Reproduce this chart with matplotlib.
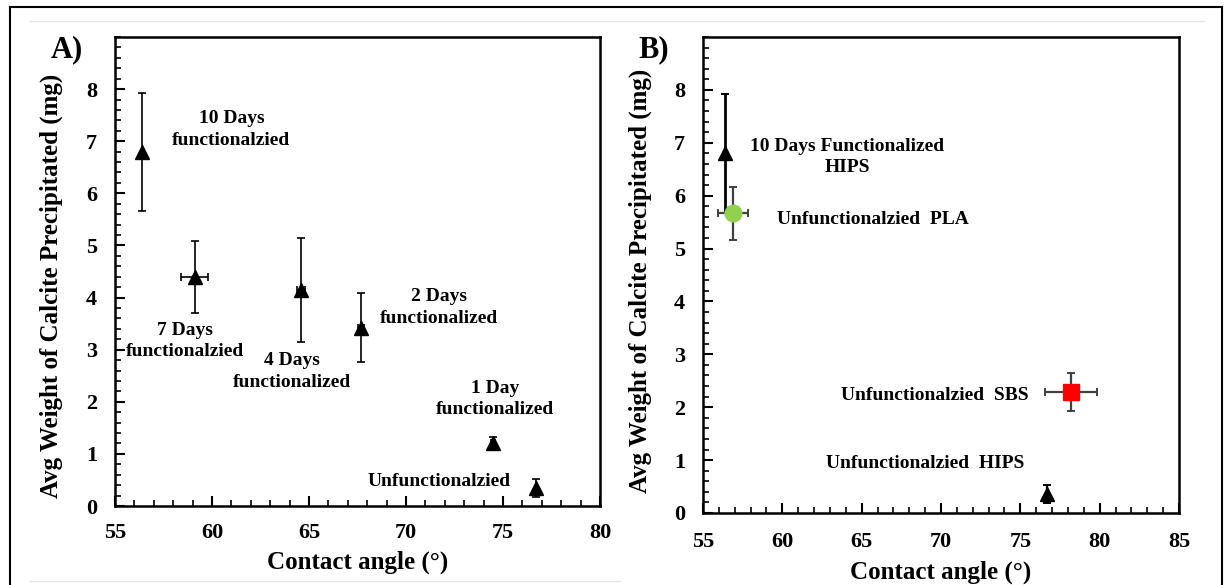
import matplotlib
matplotlib.use('Agg')
import matplotlib.pyplot as plt
from matplotlib.lines import Line2D
from matplotlib.ticker import MultipleLocator

plt.rcParams['font.family'] = ['Liberation Serif', 'DejaVu Serif']
plt.rcParams['font.weight'] = 'bold'

# ---- data, panel A (functionalization time series) ----
a_names = ['10 Days\nfunctionalzied', '7 Days\nfunctionalzied', '4 Days\nfunctionalized',
           '2 Days\nfunctionalized', '1 Day\nfunctionalized', 'Unfunctionalzied']
a_angle = [56.4, 59.1, 64.6, 67.7, 74.5, 76.7]
a_angle_err = [0.0, 0.7, 0.2, 0.15, 0.1, 0.0]
a_weight = [6.8, 4.4, 4.15, 3.42, 1.2, 0.35]
a_weight_err = [1.13, 0.69, 1.0, 0.66, 0.13, 0.17]

# ---- data, panel B (materials) ----
b_names = ['10 Days Functionalized\nHIPS', 'Unfunctionalzied  PLA',
           'Unfunctionalzied  SBS', 'Unfunctionalzied  HIPS']
b_angle = [56.4, 56.9, 78.2, 76.7]
b_angle_err = [0.0, 0.95, 1.65, 0.0]
b_weight = [6.8, 5.67, 2.28, 0.35]
b_weight_err = [1.13, 0.5, 0.36, 0.17]

x_ticks_a = [55, 60, 65, 70, 75, 80]
x_ticks_b = [55, 60, 65, 70, 75, 80, 85]
y_ticks = [0, 1, 2, 3, 4, 5, 6, 7, 8]

# label placement (data coords)
a_text_pos = [(61.0, 7.23), (58.6, 3.17), (64.1, 2.58), (71.7, 3.81), (74.6, 2.05), (71.7, 0.47)]
b_text_pos = [(64.1, 6.73), (65.7, 5.54), (69.6, 2.23), (69.0, 0.94)]

# marker styles for panel B
b_marker = ['^', 'o', 's', '^']
b_face = ['black', '#92D050', '#FF0000', 'black']
b_size = [10, 12, 11, 10]
b_ecolor = ['black', '#404040', '#404040', 'black']
b_elw = [2.0, 1.6, 1.6, 1.6]

W, H = 1226, 585
fig = plt.figure(figsize=(W / 100, H / 100), dpi=100)


def fx(x):
    return x / W


def fy(y):
    return 1 - y / H


axA = fig.add_axes([fx(115), fy(506), fx(600) - fx(115), fy(37) - fy(506)])
axB = fig.add_axes([fx(703), fy(513), fx(1179) - fx(703), fy(37) - fy(513)])


def style_axis(ax, xlim, xticks, xpad, ylab_y):
    ax.set_xlim(xlim)
    ax.set_ylim(0, 9)
    ax.set_xticks(xticks)
    ax.set_yticks(y_ticks)
    ax.xaxis.set_minor_locator(MultipleLocator(1))
    ax.yaxis.set_minor_locator(MultipleLocator(0.2))
    ax.tick_params(which='major', direction='in', length=7, width=1.5, labelsize=16)
    ax.tick_params(which='minor', direction='in', length=4.5, width=1.2)
    ax.tick_params(axis='x', pad=xpad)
    ax.tick_params(axis='y', pad=13)
    for s in ax.spines.values():
        s.set_linewidth(1.8)
    ax.set_xlabel('Contact angle (°)', fontsize=18, fontweight='bold', labelpad=6)
    ax.set_ylabel('Avg Weight of Calcite Precipitated (mg)', fontsize=18, fontweight='bold')
    ax.yaxis.set_label_coords(-0.108, ylab_y)


# panel A
for i in range(len(a_angle)):
    axA.errorbar(a_angle[i], a_weight[i], yerr=a_weight_err[i],
                 xerr=a_angle_err[i] if a_angle_err[i] > 0 else None,
                 fmt='^', color='black', ms=10, ecolor='black', elinewidth=1.2,
                 capsize=3, capthick=1.2, zorder=3)
    axA.text(a_text_pos[i][0], a_text_pos[i][1], a_names[i], ha='center', va='center',
             fontsize=14, fontweight='bold', multialignment='center', linespacing=1.35)
style_axis(axA, (55, 80), x_ticks_a, 12, 0.47)

# panel B
for i in range(len(b_angle)):
    axB.errorbar(b_angle[i], b_weight[i], yerr=b_weight_err[i],
                 xerr=b_angle_err[i] if b_angle_err[i] > 0 else None,
                 fmt=b_marker[i], mfc=b_face[i], mec=b_face[i], ms=b_size[i],
                 ecolor=b_ecolor[i], elinewidth=b_elw[i], capsize=3, capthick=1.4, zorder=3)
    axB.text(b_text_pos[i][0], b_text_pos[i][1], b_names[i], ha='center', va='center',
             fontsize=14, fontweight='bold', multialignment='center', linespacing=1.35)
style_axis(axB, (55, 85), x_ticks_b, 14, 0.487)

fig.text(fx(67), fy(50), 'A)', fontsize=22, fontweight='bold', ha='center', va='center')
fig.text(fx(654), fy(50), 'B)', fontsize=22, fontweight='bold', ha='center', va='center')

# page frame around the figure
fig.add_artist(Line2D([fx(10), fx(10)], [fy(7), 0], color='black', lw=1.5, transform=fig.transFigure))
fig.add_artist(Line2D([fx(10), fx(1222)], [fy(7), fy(7)], color='black', lw=1.5, transform=fig.transFigure))
fig.add_artist(Line2D([fx(1222), fx(1222)], [fy(7), 0], color='black', lw=1.5, transform=fig.transFigure))
fig.add_artist(Line2D([fx(30), fx(1204)], [fy(21), fy(21)], color='#e6e6e6', lw=1, transform=fig.transFigure))
fig.add_artist(Line2D([fx(30), fx(620)], [fy(581), fy(581)], color='#e6e6e6', lw=1, transform=fig.transFigure))

fig.savefig('out.png', dpi=100)
